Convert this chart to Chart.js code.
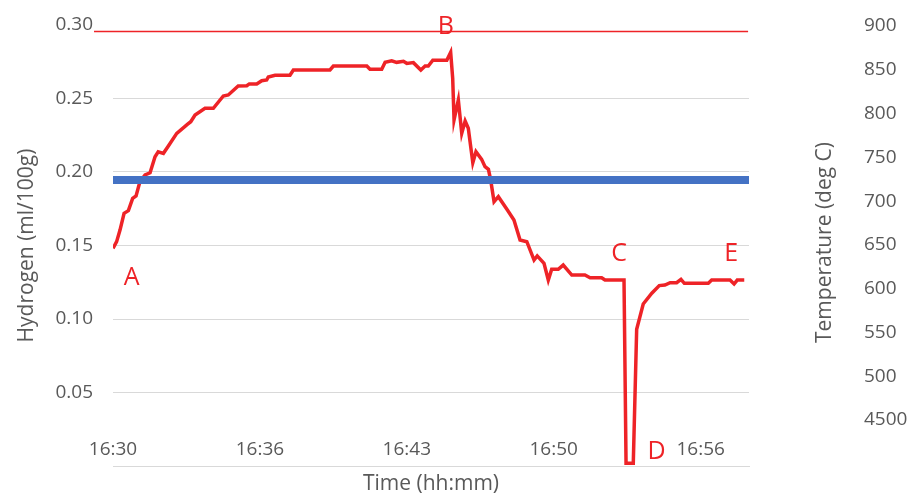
<!DOCTYPE html>
<html>
<head>
<meta charset="utf-8">
<script src="https://cdn.jsdelivr.net/npm/chart.js@4"></script>
<style>
  html, body { margin: 0; padding: 0; background: #ffffff; }
  #wrap { width: 910px; height: 499px; position: relative; }
</style>
</head>
<body>
<div id="wrap"><canvas id="c"></canvas></div>
<script>
// ---- data (time in minutes after 16:30) ----
const timeMin = [0.00,0.16,0.31,0.49,0.68,0.87,1.02,1.19,1.42,1.64,1.86,2.00,2.23,2.45,2.82,3.29,3.44,3.63,4.07,4.44,4.88,5.10,5.54,5.92,6.03,6.36,6.58,6.80,6.87,7.17,7.83,7.98,9.60,9.75,11.23,11.37,11.89,12.04,12.33,12.55,12.85,13.00,13.29,13.62,13.81,13.95,14.15,14.77,14.94,15.03,15.09,15.28,15.43,15.58,15.72,15.92,16.06,16.31,16.46,16.61,16.71,16.86,17.05,17.45,17.74,18.01,18.31,18.63,18.77,19.07,19.26,19.41,19.70,19.92,20.30,20.88,21.11,21.62,21.77,22.61,22.70,23.02,23.17,23.46,23.84,24.17,24.42,24.65,24.94,25.13,25.28,26.34,26.49,27.30,27.48,27.62,27.93];
const hydrogen = [0.1481,0.1526,0.1605,0.1719,0.1737,0.1821,0.1837,0.1934,0.1980,0.1995,0.2104,0.2138,0.2127,0.2177,0.2263,0.2324,0.2342,0.2388,0.2433,0.2433,0.2517,0.2524,0.2585,0.2587,0.2599,0.2599,0.2621,0.2626,0.2646,0.2658,0.2658,0.2694,0.2694,0.2721,0.2721,0.2699,0.2699,0.2746,0.2757,0.2746,0.2753,0.2739,0.2744,0.2694,0.2721,0.2721,0.2760,0.2760,0.2814,0.2637,0.2354,0.2490,0.2263,0.2347,0.2297,0.2063,0.2138,0.2086,0.2036,0.2018,0.1946,0.1798,0.1832,0.1741,0.1673,0.1537,0.1526,0.1401,0.1429,0.1379,0.1265,0.1338,0.1338,0.1367,0.1299,0.1299,0.1281,0.1281,0.1265,0.1265,0.0018,0.0018,0.0930,0.1102,0.1175,0.1227,0.1231,0.1247,0.1247,0.1270,0.1243,0.1243,0.1265,0.1265,0.1238,0.1265,0.1265];

const furnaceTimes = [-0.84, 28.10];
const furnaceTemp = [893.7, 893.7];
const limitTimes = [0.00, 28.14];
const limitTemp = [724, 724];

const xTickValues = [0, 6.5, 13, 19.5, 26];
const xTickLabels = ["16:30", "16:36", "16:43", "16:50", "16:56"];
const hTickValues = [0, 0.05, 0.10, 0.15, 0.20, 0.25, 0.30];
const tTickValues = [450, 500, 550, 600, 650, 700, 750, 800, 850, 900];
const tTickLabels = ["4500", "500", "550", "600", "650", "700", "750", "800", "850", "900"];

const markLetters = ["A", "B", "C", "D", "E"];
const markTimes = [0.82, 14.73, 22.39, 24.05, 27.35];
const markValues = [0.1282, 0.2986, 0.1442, 0.0099, 0.1442];

const rightTitle = 'Temperature (deg C)';

// ---- chart ----
const RED = '#ee2327';
const GREY_TEXT = '#595959';
const GRID = '#d9d9d9';
const FONT = '"Open Sans", "Liberation Sans", sans-serif';

const letterPlugin = {
  id: 'letters',
  afterDatasetsDraw(chart) {
    const ctx = chart.ctx;
    const xs = chart.scales.x, ys = chart.scales.y;
    ctx.save();
    ctx.fillStyle = RED;
    ctx.font = '25px ' + FONT;
    ctx.textAlign = 'center';
    ctx.textBaseline = 'middle';
    markLetters.forEach((l, i) => {
      ctx.fillText(l, xs.getPixelForValue(markTimes[i]), ys.getPixelForValue(markValues[i]));
    });
    ctx.restore();
  },
  afterDraw(chart) {
    // right axis title, reading bottom-to-top like the reference
    const ctx = chart.ctx;
    const s = chart.scales.y2;
    ctx.save();
    ctx.fillStyle = GREY_TEXT;
    ctx.font = '21px ' + FONT;
    ctx.textAlign = 'center';
    ctx.textBaseline = 'middle';
    ctx.translate(s.left + 76, (chart.chartArea.top + chart.chartArea.bottom) / 2 - 3);
    ctx.rotate(-Math.PI / 2);
    ctx.fillText(rightTitle, 0, 0);
    ctx.restore();
  }
};

function zeroPad(s) { s.paddingTop = 0; s.paddingBottom = 0; s.paddingLeft = 0; s.paddingRight = 0; }

new Chart(document.getElementById('c'), {
  type: 'line',
  data: {
    datasets: [
      {
        label: 'limit',
        data: limitTimes.map((t, i) => ({ x: t, y: limitTemp[i] })),
        yAxisID: 'y2',
        borderColor: '#4472c4',
        borderWidth: 8,
        pointRadius: 0,
        order: 0
      },
      {
        label: 'Hydrogen',
        data: timeMin.map((t, i) => ({ x: t, y: hydrogen[i] })),
        yAxisID: 'y',
        borderColor: RED,
        borderWidth: 3.5,
        pointRadius: 0,
        tension: 0,
        order: 1
      },
      {
        label: 'Furnace',
        data: furnaceTimes.map((t, i) => ({ x: t, y: furnaceTemp[i] })),
        yAxisID: 'y2',
        borderColor: RED,
        borderWidth: 1.5,
        pointRadius: 0,
        clip: false,
        order: 2
      }
    ]
  },
  options: {
    responsive: true,
    maintainAspectRatio: false,
    animation: false,
    layout: { padding: { top: 25, left: 0, right: 0, bottom: 0 } },
    plugins: { legend: { display: false }, tooltip: { enabled: false } },
    scales: {
      x: {
        type: 'linear',
        min: 0,
        max: 28.14,
        afterBuildTicks: s => { s.ticks = xTickValues.map(v => ({ value: v })); },
        afterFit: s => { s.height = 33; zeroPad(s); },
        grid: { display: false, drawTicks: false },
        border: { display: true, color: GRID, width: 1 },
        ticks: {
          autoSkip: false, maxRotation: 0, mirror: true, padding: 5,
          color: GREY_TEXT, font: { family: FONT, size: 19 },
          callback: (v, i) => xTickLabels[i]
        },
        title: {
          display: true, text: 'Time (hh:mm)', color: GREY_TEXT,
          font: { family: FONT, size: 21 }, padding: { top: 0, bottom: 2 }
        }
      },
      y: {
        type: 'linear',
        position: 'left',
        min: 0,
        max: 0.30,
        afterBuildTicks: s => { s.ticks = hTickValues.map(v => ({ value: v })); },
        afterFit: s => { s.width = 113; zeroPad(s); },
        grid: {
          drawTicks: false,
          color: c => (c.index === hTickValues.length - 1 ? 'rgba(0,0,0,0)' : GRID),
          lineWidth: 1
        },
        border: { display: false },
        ticks: {
          padding: 20, color: GREY_TEXT, font: { family: FONT, size: 19 },
          callback: (v) => (v === 0 ? '' : v.toFixed(2))
        },
        title: {
          display: true, text: 'Hydrogen (ml/100g)', color: GREY_TEXT,
          font: { family: FONT, size: 21 }, padding: { top: 14, bottom: 0 }
        }
      },
      y2: {
        type: 'linear',
        position: 'right',
        min: 397.5,
        max: 901.1,
        afterBuildTicks: s => { s.ticks = tTickValues.map(v => ({ value: v })); },
        afterFit: s => { s.width = 161; zeroPad(s); },
        grid: { display: false, drawTicks: false },
        border: { display: false },
        ticks: {
          padding: 115, color: GREY_TEXT, font: { family: FONT, size: 19 },
          callback: (v, i) => tTickLabels[i]
        },
        title: { display: false }
      }
    }
  },
  plugins: [letterPlugin]
});
</script>
</body>
</html>
